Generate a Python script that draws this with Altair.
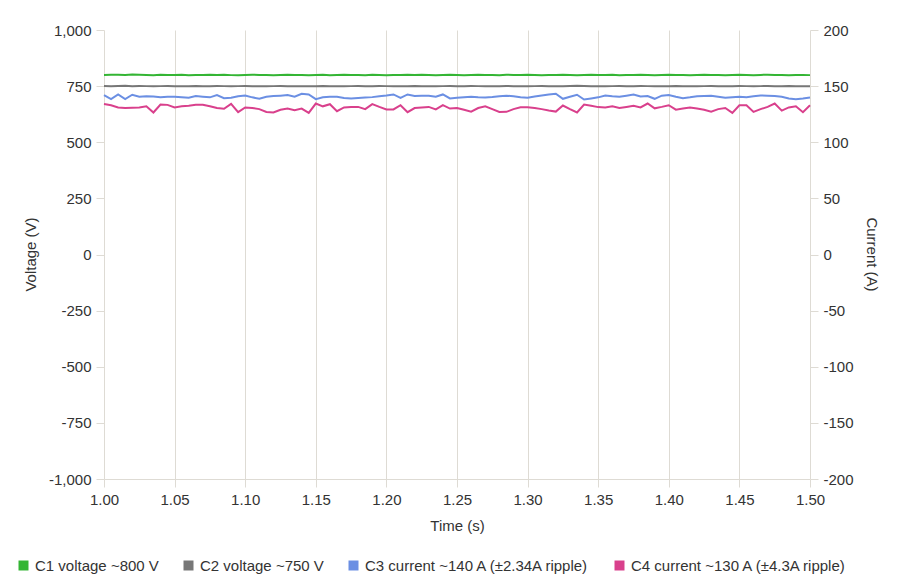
import altair as alt
import pandas as pd

T0 = 1.0
DT = 0.005

C1 = [800, 801, 801, 800, 802, 801, 800, 799, 801, 800,
      800, 801, 799, 800, 800, 801, 800, 801, 799, 798,
      800, 801, 800, 800, 799, 800, 801, 800, 800, 799,
      800, 801, 799, 800, 801, 800, 800, 799, 801, 800,
      799, 800, 800, 801, 800, 801, 800, 799, 800, 801,
      800, 799, 800, 801, 800, 800, 799, 801, 800, 800,
      801, 800, 799, 800, 800, 801, 800, 799, 800, 801,
      800, 800, 801, 799, 800, 800, 801, 800, 799, 800,
      801, 800, 800, 799, 800, 801, 800, 800, 799, 800,
      801, 800, 799, 800, 801, 800, 800, 799, 800, 800,
      799]

C2 = [751, 750, 751, 752, 750, 751, 750, 749, 750, 751,
      750, 750, 749, 751, 750, 750, 751, 750, 749, 750,
      751, 750, 750, 749, 750, 751, 750, 750, 749, 750,
      750, 751, 750, 750, 749, 750, 751, 750, 750, 751,
      750, 749, 750, 750, 751, 750, 750, 749, 750, 751,
      750, 750, 751, 750, 749, 750, 750, 751, 750, 750,
      749, 750, 751, 750, 750, 750, 751, 752, 751, 750,
      750, 749, 750, 751, 750, 750, 751, 750, 749, 750,
      750, 751, 750, 750, 749, 750, 751, 750, 750, 750,
      751, 750, 749, 750, 751, 750, 750, 751, 750, 750,
      750]

C3 = [142, 138.4, 142.6, 138.4, 142.3, 140.5, 141, 140.8, 140, 140.5,
      140.5, 140, 139.6, 141.1, 140.5, 140, 142, 139.3, 139.6, 141,
      141.7, 140, 138.7, 140.5, 141.1, 141.5, 142, 140.5, 143.2, 142.6,
      138.4, 140, 140.5, 140.5, 139.5, 139, 139.5, 139.9, 140.2, 141,
      141.7, 142.6, 139.6, 142.6, 141.3, 141.5, 141.5, 140.5, 142.6, 139,
      139.6, 140, 140.5, 140, 139.9, 140.3, 141, 141.5, 141, 140,
      139.6, 140.8, 141.7, 142.6, 143.2, 138.7, 140.5, 142.3, 138.1, 139,
      140, 141.7, 141, 140.5, 141.5, 142.6, 140.8, 141.1, 138.7, 141.5,
      142, 140.5, 139.3, 140, 141, 141.2, 141.4, 140.5, 139.6, 140,
      140.5, 140.2, 141, 141.7, 141.4, 141.1, 140.5, 139, 138.4, 139,
      139.9]

C4 = [134, 133, 131, 130.5, 130.8, 131, 132, 126.5, 133.6, 133.3,
      131, 132, 132.5, 133.3, 133.3, 132, 130.5, 129.8, 134.2, 126.8,
      131, 130.5, 129.5, 127, 126.5, 129, 130, 128.5, 130, 126.2,
      134.5, 132, 133.9, 127.7, 131, 131.5, 131.5, 129.5, 134, 131.5,
      129.2, 129.2, 133, 126.8, 130.5, 131, 131.5, 129.2, 133, 130,
      130.5, 129, 127.3, 130.5, 132, 129.5, 127, 127.1, 129.5, 131.2,
      131.2, 130.5, 129.5, 128.3, 127.3, 132.7, 129.5, 126.5, 133.6, 132.5,
      131.3, 131, 132, 130.5, 131.5, 132.6, 131, 134.5, 130.2, 131.5,
      133, 129, 130, 131, 130, 129, 127.3, 129.5, 130.5, 126.2,
      133, 133, 127, 129.5, 131.5, 134.5, 128.2, 131, 132, 126.8,
      133]

SERIES = ["C1 voltage ~800 V", "C2 voltage ~750 V",
          "C3 current ~140 A (±2.34A ripple)", "C4 current ~130 A (±4.3A ripple)"]
COLORS = ["#34b534", "#777777", "#6b8fe3", "#d9408c"]

X_TICKS = [1.0, 1.05, 1.1, 1.15, 1.2, 1.25, 1.3, 1.35, 1.4, 1.45, 1.5]
V_TICKS = [-1000, -750, -500, -250, 0, 250, 500, 750, 1000]
A_TICKS = [-200, -150, -100, -50, 0, 50, 100, 150, 200]

N = len(C1)
time = [round(T0 + DT * i, 4) for i in range(N)]

volt = pd.DataFrame({"t": time * 2, "v": C1 + C2,
                     "s": [SERIES[0]] * N + [SERIES[1]] * N})
curr = pd.DataFrame({"t": time * 2, "v": C3 + C4,
                     "s": [SERIES[2]] * N + [SERIES[3]] * N})

FONT = "Liberation Sans"
GRID = "#dedbd4"
LABEL = "#333333"
MINUS_FIX = "replace(datum.label, '\u2212', '-')"

color = alt.Color(
    "s:N",
    scale=alt.Scale(domain=SERIES, range=COLORS),
    legend=alt.Legend(
        title=None, orient="none", direction="horizontal",
        legendX=-88, legendY=528, symbolType="square", symbolSize=4,
        symbolStrokeWidth=8, symbolOpacity=1, labelFontSize=15,
        labelFont=FONT, labelColor=LABEL, labelOffset=4, columnPadding=12,
        padding=0, labelLimit=400, gridAlign="none",
    ),
)

x = alt.X(
    "t:Q",
    scale=alt.Scale(domain=[1.0, 1.5], nice=False, zero=False),
    axis=alt.Axis(
        title="Time (s)", values=X_TICKS, format=".2f", grid=True,
        gridColor=GRID, gridWidth=1, domainColor=GRID, tickColor=GRID,
        tickSize=8, labelPadding=5, labelFontSize=15, labelFont=FONT,
        labelColor=LABEL, labelFlush=False, titleFontSize=15, titleFont=FONT,
        titleFontWeight="normal", titleColor=LABEL, titleY=46,
        titleBaseline="middle",
    ),
)

left = alt.Chart(volt).mark_line(strokeWidth=2).encode(
    x=x,
    y=alt.Y(
        "v:Q",
        scale=alt.Scale(domain=[-1000, 1000], nice=False),
        axis=alt.Axis(
            title="Voltage (V)", orient="left", values=V_TICKS, format=",.0f",
            labelExpr=MINUS_FIX,
            grid=False, domain=False, tickColor=GRID, tickSize=8,
            labelPadding=5, labelFontSize=15, labelFont=FONT,
            labelColor=LABEL, titleFontSize=15, titleFont=FONT,
            titleFontWeight="normal", titleColor=LABEL, titleX=-74,
            titleY=224, titleAngle=270, titleBaseline="middle",
            titleAlign="center",
        ),
    ),
    color=color,
)

right = alt.Chart(curr).mark_line(strokeWidth=2).encode(
    x=x,
    y=alt.Y(
        "v:Q",
        scale=alt.Scale(domain=[-200, 200], nice=False),
        axis=alt.Axis(
            title="Current (A)", orient="right", values=A_TICKS, format=",.0f",
            labelExpr=MINUS_FIX,
            grid=False, domain=False, tickColor=GRID, tickSize=8,
            labelPadding=5, labelFontSize=15, labelFont=FONT,
            labelColor=LABEL, titleFontSize=15, titleFont=FONT,
            titleFontWeight="normal", titleColor=LABEL, titleX=61,
            titleY=224, titleAngle=90, titleBaseline="middle",
            titleAlign="center",
        ),
    ),
    color=color,
)

chart = (
    alt.layer(left, right)
    .resolve_scale(y="independent", color="shared")
    .properties(
        width=706, height=449, autosize="none",
        padding={"left": 96, "top": 22, "right": 81, "bottom": 100},
        background="white",
    )
    .configure_view(stroke=None)
)

chart.save("out.html", embed_options={"renderer": "svg", "actions": False})
